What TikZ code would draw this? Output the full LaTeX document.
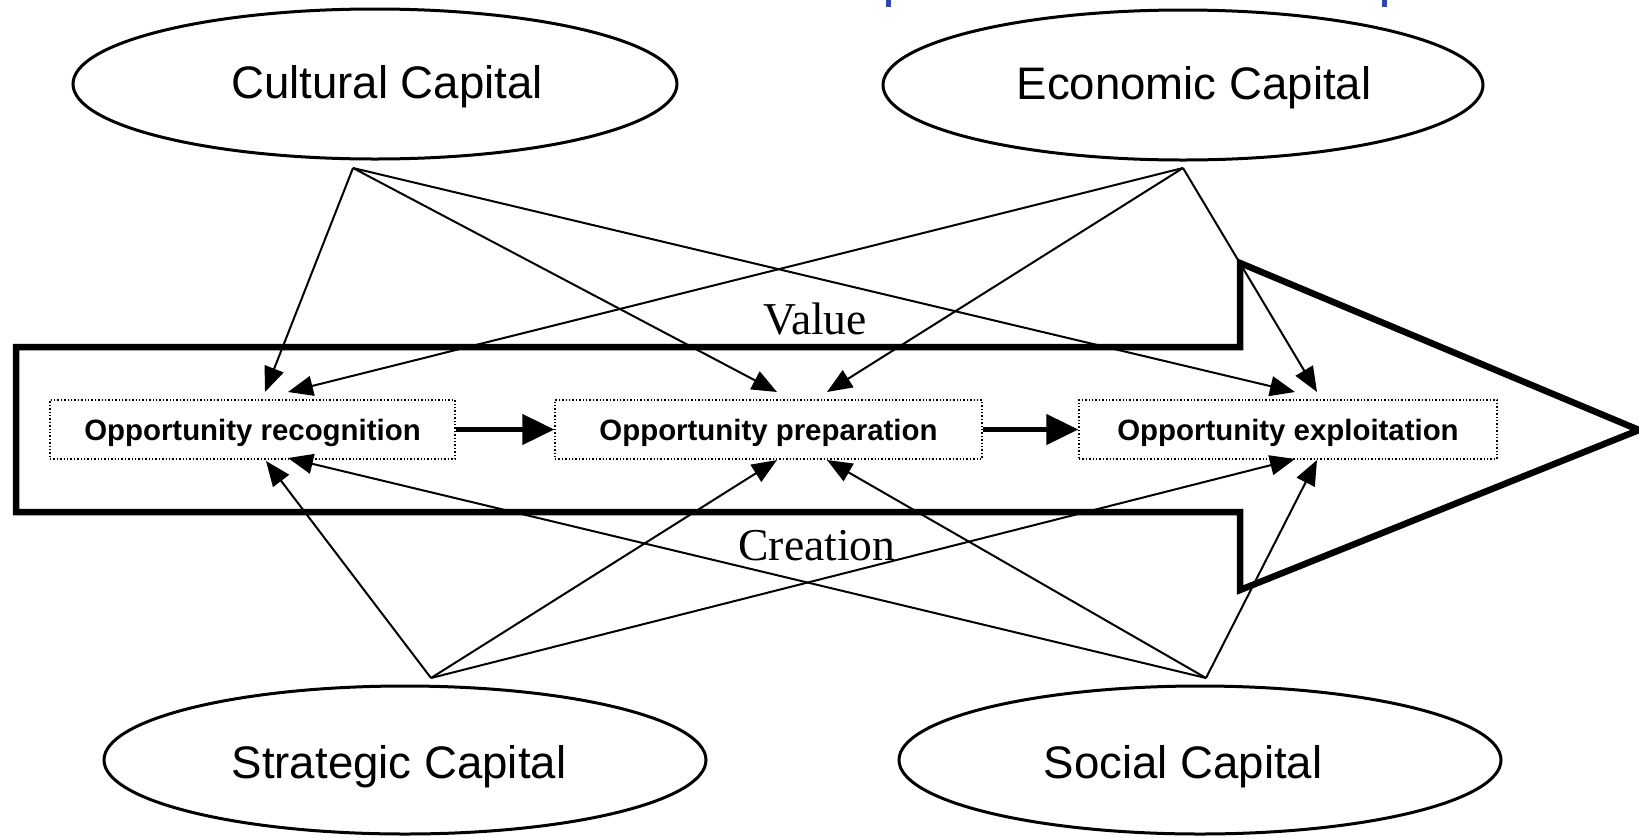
\documentclass[tikz,border=0pt]{standalone}
\usepackage{fontspec}
\setmainfont{Liberation Serif}
\setsansfont{Liberation Sans}
\usetikzlibrary{shapes.geometric,arrows.meta}
\definecolor{markblue}{RGB}{51,68,170}
\begin{document}
\begin{tikzpicture}[x=0.5pt,y=-0.5pt,
  capital/.style={draw,ellipse,line width=1.5pt,inner sep=0pt},
  capname/.style={anchor=base,inner sep=0pt,font=\sffamily\fontsize{22.8}{27}\selectfont},
  stage/.style={draw,densely dotted,line width=0.7pt,inner sep=0pt,minimum height=29.5pt,text depth=0pt,font=\sffamily\bfseries\fontsize{14.7}{17}\selectfont},
  link/.style={line width=1pt,-{Triangle[length=12.5pt,width=10pt]}},
  flow/.style={line width=2.3pt,-{Triangle[length=16pt,width=15pt]}},
  word/.style={font=\rmfamily\fontsize{22.8}{26}\selectfont,inner sep=0pt},
  bigarrow/.style={line width=3.25pt}]
\useasboundingbox (0,0) rectangle (1639,836);
% blue fragments at the top edge
\fill[markblue] (886,0) rectangle (891,7);
\fill[markblue] (1382,0) rectangle (1387,7);
% big arrow
\draw[bigarrow] (16,347) -- (1240,347) -- (1240,263) -- (1639,430) -- (1240,590) -- (1240,512) -- (16,512) -- cycle;
% capitals
\node[capital,minimum width=302pt,minimum height=75pt] (cul) at (375,84) {};
\node[capital,minimum width=300pt,minimum height=75pt] (eco) at (1183,85) {};
\node[capital,minimum width=301pt,minimum height=74pt] (str) at (405,760) {};
\node[capital,minimum width=301pt,minimum height=74pt] (soc) at (1200,760) {};
\node[capname] (culT) at (387,98) {Cultural Capital};
\node[capname] (ecoT) at (1194,99) {Economic Capital};
\node[capname] (strT) at (399,778) {Strategic Capital};
\node[capname] (socT) at (1183,778) {Social Capital};
% connector origins
\coordinate (culA) at (353,168);
\coordinate (ecoA) at (1183,168);
\coordinate (strA) at (431,678);
\coordinate (socA) at (1206,678);
% stages
\node[stage,minimum width=202.5pt] (rec) at (252.5,429.5) {Opportunity recognition};
\node[stage,minimum width=213.5pt] (prep) at (768.5,429.5) {Opportunity preparation};
\node[stage,minimum width=209pt] (expl) at (1288,429.5) {Opportunity exploitation};
% tips
\coordinate (recT1) at (265,392);
\coordinate (recT2) at (288,392);
\coordinate (recB1) at (266,461);
\coordinate (recB2) at (288,458);
\coordinate (prepT1) at (777,392);
\coordinate (prepT2) at (827,392);
\coordinate (prepB1) at (777,460);
\coordinate (prepB2) at (827,460);
\coordinate (explT1) at (1295,392);
\coordinate (explT2) at (1317,392);
\coordinate (explB1) at (1295,459);
\coordinate (explB2) at (1317,460);
% links
\draw[link] (culA) -- (recT1);
\draw[link] (culA) -- (prepT1);
\draw[link] (culA) -- (explT1);
\draw[link] (ecoA) -- (recT2);
\draw[link] (ecoA) -- (prepT2);
\draw[link] (ecoA) -- (explT2);
\draw[link] (strA) -- (recB1);
\draw[link] (strA) -- (prepB1);
\draw[link] (strA) -- (explB1);
\draw[link] (socA) -- (recB2);
\draw[link] (socA) -- (prepB2);
\draw[link] (socA) -- (explB2);
% flow
\draw[flow] (rec) -- (prep);
\draw[flow] (prep) -- (expl);
% words
\node[word] (val) at (815,319) {Value};
\node[word] (cre) at (817,546) {Creation};
\end{tikzpicture}
\end{document}
